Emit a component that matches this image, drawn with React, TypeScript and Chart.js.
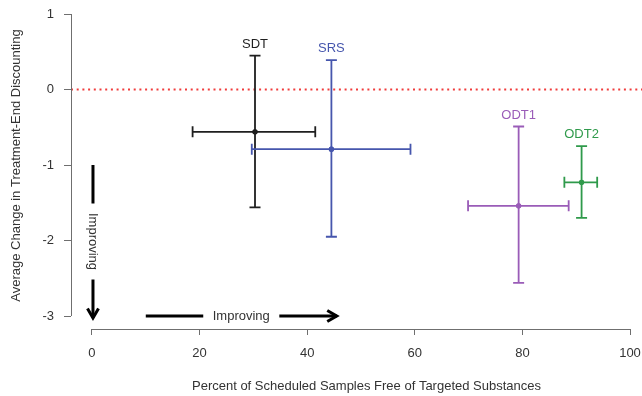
import { useEffect, useRef } from 'react';
import { Chart, registerables } from 'chart.js';

Chart.register(...registerables);

// ---- data ----
const groups = ['SDT', 'SRS', 'ODT1', 'ODT2'];
const xMean = [30.3, 44.5, 79.3, 91.0];
const xLow = [18.7, 29.7, 69.9, 87.8];
const xHigh = [41.5, 59.2, 88.6, 93.9];
const yMean = [-0.56, -0.79, -1.54, -1.23];
const yLow = [-1.56, -1.95, -2.56, -1.70];
const yHigh = [0.45, 0.39, -0.49, -0.75];
const groupColors = ['#1f1f1f', '#4656ad', '#9a5cb8', '#2f9a4b'];

const xTicks = [0, 20, 40, 60, 80, 100];
const yTicks = [-3, -2, -1, 0, 1];
const X_MIN = -3.9;
const X_MAX = 102.23;
const Y_MIN = -3.172;
const Y_MAX = 1.159;
const refLineY = 0;

const arrowLabel = 'Improving';
const vArrowX = 0;
const vArrowY = [-1, -3];
const hArrowY = -3;
const hArrowX = [10, 45.5];

const xTitle = 'Percent of Scheduled Samples Free of Targeted Substances';
const yTitle = 'Average Change in Treatment-End Discounting';

const FAMILY = '"Liberation Sans", Arial, Helvetica, sans-serif';
const TEXT = '#333333';
const AXIS = '#6f6f6f';

function arrowHead(ctx: CanvasRenderingContext2D, tx: number, ty: number, angle: number) {
  const len = 11;
  const spread = Math.PI / 6;
  ctx.beginPath();
  ctx.moveTo(tx - len * Math.cos(angle - spread), ty - len * Math.sin(angle - spread));
  ctx.lineTo(tx, ty);
  ctx.lineTo(tx - len * Math.cos(angle + spread), ty - len * Math.sin(angle + spread));
  ctx.stroke();
}

const overlay = {
  id: 'overlay',
  afterDatasetsDraw(chart: any) {
    const { ctx, chartArea } = chart;
    const xs = chart.scales.x;
    const ys = chart.scales.y;
    ctx.save();

    // R-style detached axis lines
    ctx.strokeStyle = AXIS;
    ctx.lineWidth = 1;
    ctx.beginPath();
    const ax = Math.round(chartArea.left) + 0.5;
    ctx.moveTo(ax, ys.getPixelForValue(yTicks[0]));
    ctx.lineTo(ax, ys.getPixelForValue(yTicks[yTicks.length - 1]));
    const ay = Math.round(chartArea.bottom) + 0.5;
    ctx.moveTo(xs.getPixelForValue(xTicks[0]), ay);
    ctx.lineTo(xs.getPixelForValue(xTicks[xTicks.length - 1]), ay);
    ctx.stroke();

    // error bars
    const cap = 5.5;
    ctx.lineWidth = 1.8;
    ctx.font = `13px ${FAMILY}`;
    ctx.textAlign = 'center';
    ctx.textBaseline = 'middle';
    groups.forEach((g, i) => {
      const c = groupColors[i];
      const px = xs.getPixelForValue(xMean[i]);
      const py = ys.getPixelForValue(yMean[i]);
      const top = ys.getPixelForValue(yHigh[i]);
      const bot = ys.getPixelForValue(yLow[i]);
      const l = xs.getPixelForValue(xLow[i]);
      const r = xs.getPixelForValue(xHigh[i]);
      ctx.strokeStyle = c;
      ctx.beginPath();
      ctx.moveTo(px, top);
      ctx.lineTo(px, bot);
      ctx.moveTo(px - cap, top);
      ctx.lineTo(px + cap, top);
      ctx.moveTo(px - cap, bot);
      ctx.lineTo(px + cap, bot);
      ctx.moveTo(l, py);
      ctx.lineTo(r, py);
      ctx.moveTo(l, py - cap);
      ctx.lineTo(l, py + cap);
      ctx.moveTo(r, py - cap);
      ctx.lineTo(r, py + cap);
      ctx.stroke();
      ctx.fillStyle = c;
      ctx.beginPath();
      ctx.arc(px, py, 2.6, 0, Math.PI * 2);
      ctx.fill();
      ctx.fillText(g, px, top - 11.5);
    });

    // "Improving" arrows
    ctx.strokeStyle = '#000';
    ctx.fillStyle = TEXT;
    ctx.lineWidth = 3;
    ctx.lineCap = 'butt';
    ctx.lineJoin = 'miter';
    const tw = ctx.measureText(arrowLabel).width;
    const gap = 9.5;

    // vertical
    const vx = xs.getPixelForValue(vArrowX) + 1;
    const vTop = ys.getPixelForValue(vArrowY[0]);
    const vTip = ys.getPixelForValue(vArrowY[1]) + 2;
    const vMid = (vTop + vTip) / 2;
    ctx.beginPath();
    ctx.moveTo(vx, vTop);
    ctx.lineTo(vx, vMid - tw / 2 - gap);
    ctx.moveTo(vx, vMid + tw / 2 + gap);
    ctx.lineTo(vx, vTip);
    ctx.stroke();
    arrowHead(ctx, vx, vTip, Math.PI / 2);
    ctx.save();
    ctx.translate(vx, vMid);
    ctx.rotate(Math.PI / 2);
    ctx.fillText(arrowLabel, 0, 0);
    ctx.restore();

    // horizontal
    const hy = ys.getPixelForValue(hArrowY);
    const hL = xs.getPixelForValue(hArrowX[0]);
    const hTip = xs.getPixelForValue(hArrowX[1]);
    const hMid = (hL + hTip) / 2;
    ctx.beginPath();
    ctx.moveTo(hL, hy);
    ctx.lineTo(hMid - tw / 2 - gap, hy);
    ctx.moveTo(hMid + tw / 2 + gap, hy);
    ctx.lineTo(hTip, hy);
    ctx.stroke();
    arrowHead(ctx, hTip, hy, 0);
    ctx.fillText(arrowLabel, hMid, hy);

    // x axis title
    ctx.fillStyle = TEXT;
    ctx.font = `13px ${FAMILY}`;
    ctx.fillText(xTitle, (chartArea.left + chartArea.right) / 2 + 10, 386);

    ctx.restore();
  },
};

export default function App() {
  const ref = useRef<HTMLCanvasElement>(null);
  useEffect(() => {
    const canvas = ref.current;
    if (!canvas) return;
    const chart = new Chart(canvas, {
      type: 'scatter',
      data: {
        datasets: [
          {
            type: 'scatter',
            label: 'means',
            data: groups.map((_, i) => ({ x: xMean[i], y: yMean[i] })),
            pointRadius: 2.6,
            pointBackgroundColor: groupColors,
            pointBorderWidth: 0,
            order: 1,
          },
          {
            type: 'line',
            label: 'reference',
            data: [
              { x: X_MIN, y: refLineY },
              { x: X_MAX, y: refLineY },
            ],
            borderColor: '#f03c3c',
            borderWidth: 1.8,
            borderDash: [2, 3.7],
            pointRadius: 0,
            order: 2,
          },
        ],
      } as any,
      options: {
        responsive: false,
        animation: false,
        layout: { autoPadding: false, padding: { top: 2, left: 0, right: 0, bottom: 0 } },
        plugins: { legend: { display: false }, tooltip: { enabled: false } },
        scales: {
          x: {
            type: 'linear',
            min: X_MIN,
            max: X_MAX,
            afterBuildTicks: (s: any) => {
              s.ticks = xTicks.map((v) => ({ value: v }));
            },
            afterFit: (s: any) => {
              s.height = 67;
              s.paddingLeft = 0;
              s.paddingRight = 0;
            },
            grid: { display: true, drawOnChartArea: false, drawTicks: true, tickLength: 6, color: AXIS },
            border: { display: false },
            ticks: { color: TEXT, font: { family: FAMILY, size: 13 }, padding: 11, maxRotation: 0, autoSkip: false },
          },
          y: {
            type: 'linear',
            min: Y_MIN,
            max: Y_MAX,
            afterBuildTicks: (s: any) => {
              s.ticks = yTicks.map((v) => ({ value: v }));
            },
            afterFit: (s: any) => {
              s.width = 71;
              s.paddingTop = 0;
              s.paddingBottom = 0;
            },
            grid: { display: true, drawOnChartArea: false, drawTicks: true, tickLength: 7, color: AXIS },
            border: { display: false },
            ticks: { color: TEXT, font: { family: FAMILY, size: 13 }, padding: 10, autoSkip: false },
            title: {
              display: true,
              text: yTitle,
              color: TEXT,
              font: { family: FAMILY, size: 13 },
              padding: { top: 9, bottom: 0 },
            },
          },
        },
      } as any,
      plugins: [overlay],
    });
    return () => chart.destroy();
  }, []);
  return (
    <div style={{ position: 'fixed', left: 0, top: 0, width: 642, height: 396, background: '#fff' }}>
      <canvas ref={ref} width={642} height={396} style={{ display: 'block', width: 642, height: 396 }} />
    </div>
  );
}
